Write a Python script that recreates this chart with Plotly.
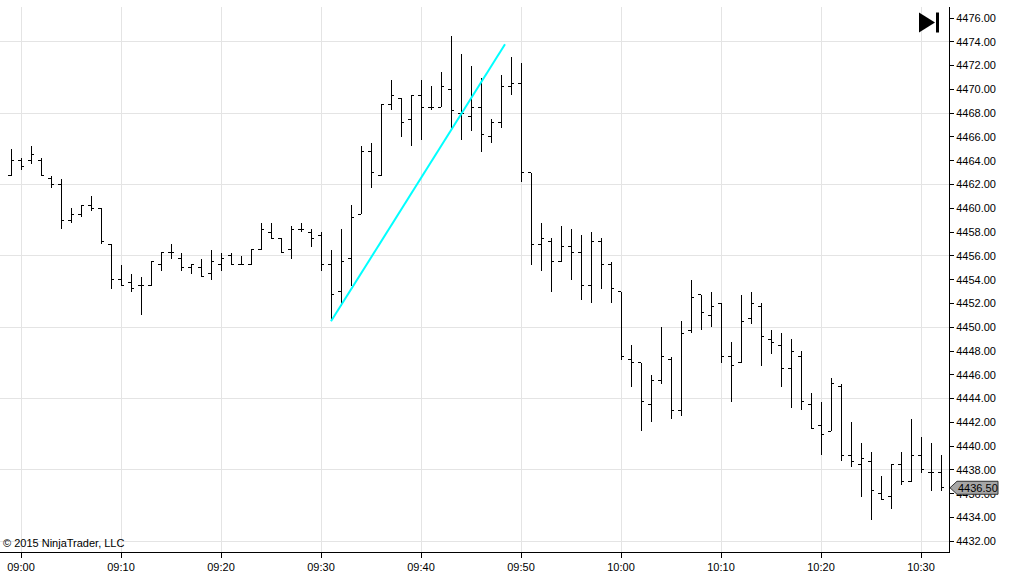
import pandas as pd
import plotly.graph_objects as go

# 1-minute bars, 08:59 .. 10:32
times = pd.date_range("2015-06-10 08:59", periods=94, freq="min")

opens = [4462.75, 4464.0, 4464.0, 4464.0, 4462.5, 4462.0, 4459.0, 4459.5, 4460.25, 4460.0,
         4457.0, 4454.0, 4453.75, 4453.5, 4453.5, 4455.25, 4456.25, 4455.75, 4455.0, 4455.0,
         4454.5, 4455.25, 4456.0, 4455.25, 4455.25, 4456.5, 4458.0, 4457.5, 4456.5, 4458.25,
         4458.0, 4457.75, 4455.25, 4453.0, 4455.75, 4459.5, 4464.75, 4462.75, 4468.75, 4469.25,
         4467.5, 4469.5, 4468.5, 4468.5, 4470.0, 4468.0, 4467.75, 4468.5, 4466.0, 4467.25,
         4470.25, 4470.5, 4463.0, 4457.0, 4457.25, 4455.5, 4456.75, 4456.25, 4453.5, 4457.25,
         4455.25, 4453.0, 4447.25, 4447.0, 4443.5, 4445.5, 4447.25, 4443.0, 4449.75, 4452.75,
         4451.0, 4452.0, 4447.5, 4447.0, 4450.75, 4451.75, 4449.0, 4448.5, 4446.5, 4447.5,
         4443.5, 4441.75, 4441.25, 4445.0, 4439.25, 4438.5, 4438.75, 4436.0, 4435.75, 4438.5,
         4437.0, 4439.25, 4437.75, 4437.75]
highs = [4465.0, 4464.25, 4465.25, 4464.25, 4462.75, 4462.5, 4460.0, 4460.25, 4461.0, 4460.0,
         4457.0, 4455.25, 4454.5, 4454.25, 4455.5, 4456.25, 4457.0, 4456.25, 4455.25, 4455.75,
         4456.5, 4456.25, 4456.25, 4456.0, 4456.5, 4458.75, 4458.75, 4457.5, 4458.5, 4458.75,
         4458.25, 4458.0, 4456.5, 4458.25, 4460.25, 4465.25, 4465.5, 4468.75, 4470.75, 4469.25,
         4469.5, 4470.75, 4470.25, 4471.5, 4474.5, 4473.0, 4472.0, 4471.0, 4467.5, 4471.25,
         4472.75, 4472.25, 4463.0, 4458.75, 4457.5, 4458.5, 4458.25, 4457.75, 4458.0, 4457.5,
         4455.5, 4453.0, 4448.5, 4447.0, 4446.0, 4450.0, 4447.5, 4450.5, 4454.0, 4452.75,
         4453.0, 4452.0, 4448.75, 4452.75, 4453.0, 4452.0, 4449.75, 4449.5, 4449.0, 4448.0,
         4444.5, 4443.75, 4445.75, 4445.25, 4442.0, 4440.25, 4439.5, 4437.5, 4438.5, 4439.5,
         4442.25, 4440.75, 4440.25, 4439.25]
lows = [4462.75, 4463.25, 4463.75, 4462.75, 4461.75, 4458.25, 4458.75, 4459.25, 4459.75, 4457.0,
        4453.25, 4453.5, 4453.0, 4451.0, 4453.5, 4454.75, 4455.75, 4454.75, 4454.5, 4454.25,
        4454.0, 4454.75, 4455.25, 4455.25, 4455.25, 4456.5, 4457.5, 4456.25, 4455.75, 4458.0,
        4456.75, 4454.75, 4450.5, 4451.75, 4453.5, 4459.5, 4461.75, 4462.75, 4468.25, 4466.0,
        4465.25, 4465.75, 4468.25, 4468.5, 4466.75, 4465.75, 4466.5, 4464.75, 4465.5, 4466.75,
        4469.5, 4462.25, 4455.25, 4454.75, 4453.0, 4455.5, 4454.0, 4452.25, 4452.0, 4453.25,
        4452.0, 4447.25, 4445.0, 4441.25, 4442.0, 4445.25, 4442.25, 4442.5, 4449.5, 4449.75,
        4450.0, 4447.0, 4443.75, 4447.0, 4450.25, 4446.75, 4447.75, 4445.0, 4443.25, 4443.0,
        4441.5, 4439.25, 4441.25, 4438.75, 4438.25, 4435.75, 4433.75, 4435.5, 4434.75, 4436.75,
        4437.0, 4437.75, 4436.25, 4436.25]
closes = [4464.0, 4463.5, 4464.5, 4462.75, 4462.0, 4459.0, 4459.5, 4460.25, 4460.0, 4457.25,
          4454.0, 4453.5, 4453.25, 4453.5, 4455.5, 4456.25, 4456.25, 4455.0, 4455.25, 4454.25,
          4455.5, 4455.75, 4455.25, 4455.25, 4456.5, 4458.25, 4457.5, 4456.25, 4458.25, 4458.25,
          4457.5, 4455.25, 4452.75, 4455.5, 4459.25, 4464.75, 4463.0, 4468.75, 4469.5, 4467.25,
          4469.5, 4468.5, 4468.5, 4470.25, 4468.25, 4468.0, 4468.5, 4466.25, 4467.25, 4470.25,
          4470.5, 4463.0, 4457.0, 4457.5, 4455.5, 4456.75, 4456.25, 4453.5, 4457.25, 4455.25,
          4453.25, 4447.5, 4447.0, 4443.75, 4445.5, 4447.5, 4443.0, 4449.5, 4452.5, 4451.25,
          4451.75, 4447.5, 4446.75, 4450.5, 4452.0, 4449.25, 4448.75, 4446.5, 4448.0, 4443.75,
          4441.5, 4441.0, 4445.25, 4439.25, 4438.75, 4439.0, 4436.25, 4435.5, 4438.5, 4437.0,
          4439.25, 4438.0, 4437.75, 4436.5]

# drawn trend line (cyan)
trend_x = ["2015-06-10 09:31:00", "2015-06-10 09:48:24"]
trend_y = [4450.5, 4473.8]

last_price = closes[-1]
y_range = [4431.1, 4476.93]
x_range = ["2015-06-10 08:57:54", "2015-06-10 10:32:48"]

font = "Liberation Sans, Arial, sans-serif"

fig = go.Figure()
fig.add_trace(go.Ohlc(x=times, open=opens, high=highs, low=lows, close=closes,
                      increasing=dict(line=dict(color="black", width=1)),
                      decreasing=dict(line=dict(color="black", width=1)),
                      tickwidth=0.3, hoverinfo="skip", showlegend=False))
fig.add_trace(go.Scatter(x=trend_x, y=trend_y, mode="lines", yaxis="y2",
                         line=dict(color="#00ffff", width=2), hoverinfo="skip",
                         showlegend=False))

fig.update_layout(
    width=1012, height=578, autosize=False,
    margin=dict(l=0, r=63, t=7, b=26, pad=0),
    paper_bgcolor="white", plot_bgcolor="white",
    font=dict(family=font, size=11, color="black"),
    xaxis=dict(type="date", range=x_range, tick0="2015-06-10 09:00", dtick=600000,
               tickformat="%H:%M", showgrid=True, gridcolor="#e4e4e4", gridwidth=1,
               showline=True, linecolor="black", linewidth=1, ticks="outside",
               ticklen=5, tickcolor="black", rangeslider=dict(visible=False),
               zeroline=False, fixedrange=True),
    yaxis=dict(side="right", range=y_range, dtick=2, tick0=4432, tickformat=".2f",
               showgrid=False, showline=True, linecolor="black", linewidth=1,
               ticks="outside", ticklen=4, tickcolor="black", zeroline=False),
    yaxis2=dict(overlaying="y", side="left", range=y_range, dtick=6, tick0=4432,
                showgrid=True, gridcolor="#e4e4e4", gridwidth=1, showticklabels=False,
                ticks="", showline=False, zeroline=False),
)

# last price marker on the price axis
fig.add_shape(type="path", xref="paper", yref="y", xsizemode="pixel", ysizemode="pixel",
              xanchor=1, yanchor=last_price, layer="above",
              path="M 1 0 L 8 -6.5 L 49 -6.5 L 49 6.5 L 8 6.5 Z",
              fillcolor="#a6a6a6", line=dict(color="#303030", width=1))
fig.add_annotation(xref="paper", yref="y", x=1, y=last_price, xanchor="left", yanchor="middle",
                   xshift=7, text="4436.50", showarrow=False,
                   font=dict(family=font, size=11, color="black"))

# "go to last bar" icon, top right of the panel
icon_y = 1 - 15.5 / 544.7
fig.add_shape(type="path", xref="paper", yref="paper", xsizemode="pixel", ysizemode="pixel",
              xanchor=1, yanchor=icon_y, layer="above",
              path="M -30 -10 L -14 0 L -30 10 Z", fillcolor="black", line=dict(width=0))
fig.add_shape(type="path", xref="paper", yref="paper", xsizemode="pixel", ysizemode="pixel",
              xanchor=1, yanchor=icon_y, layer="above",
              path="M -13 -10 L -10 -10 L -10 10 L -13 10 Z", fillcolor="black",
              line=dict(width=0))

fig.add_annotation(xref="paper", yref="paper", x=0, y=0, xanchor="left", yanchor="bottom",
                   xshift=1, yshift=1, text="© 2015 NinjaTrader, LLC", showarrow=False,
                   font=dict(family=font, size=11, color="black"))

# page body has a default margin; drop it so the figure fills the window,
# and draw the bars with crisp 1px edges like the source chart
js = ("document.body.style.margin='0';"
      "document.querySelectorAll('.ohlclayer path').forEach(function(p){"
      "p.style.shapeRendering='crispEdges';});")
fig.write_html("out.html", post_script=js, config={"displayModeBar": False})
